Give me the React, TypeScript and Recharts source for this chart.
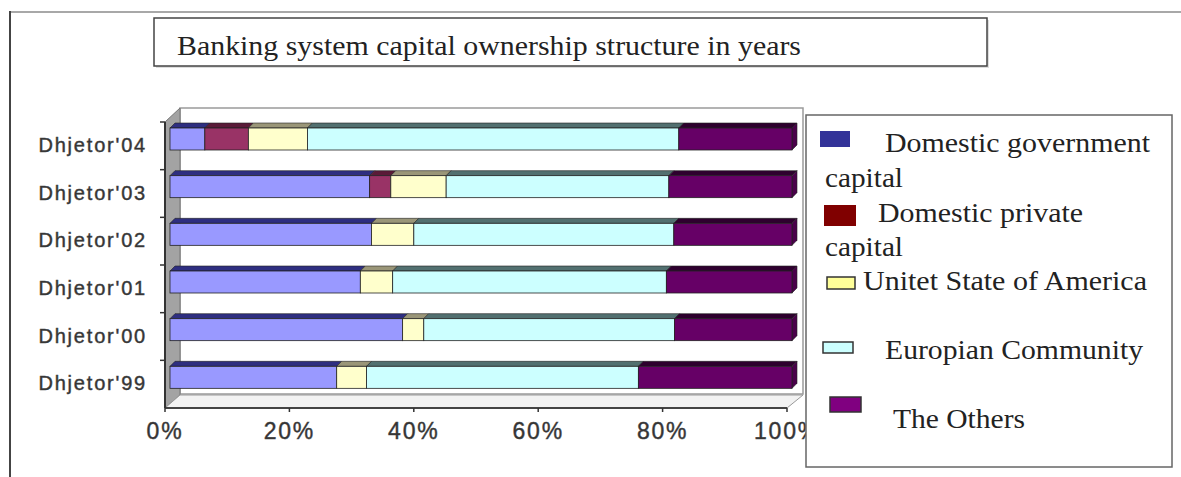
import { BarChart, Bar, XAxis, YAxis } from 'recharts'

// categories, top to bottom as drawn
const years = ["Dhjetor'04", "Dhjetor'03", "Dhjetor'02", "Dhjetor'01", "Dhjetor'00", "Dhjetor'99"]

// shares in %
const govCapital = [5.6, 32.1, 32.4, 30.6, 37.4, 26.8]
const privCapital = [7.0, 3.4, 0, 0, 0, 0]
const usa = [9.5, 8.9, 6.8, 5.2, 3.4, 4.8]
const europe = [59.7, 35.8, 41.8, 44.0, 40.3, 43.7]
const others = [18.2, 19.8, 19.0, 20.2, 18.9, 24.7]

const xTicks = [0, 20, 40, 60, 80, 100]

const W = 1181
const H = 477
const PL = 165, PR = 787, PT = 122, PB = 408
const DX = 15, DY = 13 // depth of the 3D box

const data = years.map((year, i) => ({
  year,
  gov: govCapital[i],
  priv: privCapital[i],
  usa: usa[i],
  eu: europe[i],
  oth: others[i],
}))

const series = [
  { key: 'gov', name: 'Domestic government capital', front: '#9999ff', top: '#2e2e80', side: '#2e2e80', swatch: '#333399' },
  { key: 'priv', name: 'Domestic private capital', front: '#993366', top: '#5a1a38', side: '#5a1a38', swatch: '#800000' },
  { key: 'usa', name: 'Unitet State of America', front: '#ffffcc', top: '#9a9678', side: '#9a9678', swatch: '#ffff99' },
  { key: 'eu', name: 'Europian Community', front: '#ccffff', top: '#527070', side: '#527070', swatch: '#ccffff' },
  { key: 'oth', name: 'The Others', front: '#660066', top: '#2e002e', side: '#4a004a', swatch: '#800080' },
]

function Bar3D(props: any) {
  const { x, y, width, height, front, top, side, last } = props
  if (!width || width <= 0) return null
  const bx = x + 5, by = y - 7, d = 5
  return (
    <g>
      <polygon
        points={`${bx},${by} ${bx + d},${by - d} ${bx + width + d},${by - d} ${bx + width},${by}`}
        fill={top} stroke="#222" strokeWidth={0.6}
      />
      {last && (
        <polygon
          points={`${bx + width},${by} ${bx + width + d},${by - d} ${bx + width + d},${by + height - d} ${bx + width},${by + height}`}
          fill={side} stroke="#222" strokeWidth={0.6}
        />
      )}
      <rect x={bx} y={by} width={width} height={height} fill={front} stroke="#222" strokeWidth={0.8} />
    </g>
  )
}

function YTick(props: any) {
  const { x, y, payload } = props
  return (
    <text x={x} y={y} dy="0.3em" textAnchor="end" fontFamily="'Liberation Sans', Arial, sans-serif"
      fontSize={20} letterSpacing={1.8} fill="#333" stroke="#444" strokeWidth={0.45}>{payload.value}</text>
  )
}

function XTick(props: any) {
  const { x, y, payload } = props
  return (
    <text x={x} y={y} dy="0.72em" textAnchor="middle" fontFamily="'Liberation Sans', Arial, sans-serif"
      fontSize={23} letterSpacing={1.8} fill="#333" stroke="#444" strokeWidth={0.45}>{`${payload.value}%`}</text>
  )
}

const legendRows = [
  { sw: [820, 131, 30, 16], lines: [['Domestic government', 885, 152, 265], ['capital', 825, 187, 78]] },
  { sw: [824, 205, 32, 21], lines: [['Domestic private', 878, 222, 205], ['capital', 825, 256, 78]] },
  { sw: [827, 277, 28, 12], lines: [['Unitet State of America', 863, 290, 284]] },
  { sw: [823, 342, 30, 11], lines: [['Europian Community', 885, 359, 258]] },
  { sw: [830, 397, 31, 15], lines: [['The Others', 893, 428, 132]] },
]

export default function App() {
  const band = (PB - PT) / years.length
  return (
    <div style={{ position: 'absolute', left: 0, top: 0, width: W, height: H, background: '#fff', overflow: 'hidden' }}>
      {/* 3D walls behind the bars */}
      <svg width={W} height={H} style={{ position: 'absolute', left: 0, top: 0 }}>
        <rect x={PL + DX} y={PT - DY - 1} width={PR - PL + 1} height={PB - PT} fill="#fff" stroke="#9a9a9a" strokeWidth={1.5} />
        <polygon points={`${PL},${PT} ${PL + DX},${PT - DY - 1} ${PL + DX},${PB - DY} ${PL},${PB}`} fill="#a3a3a3" stroke="#777" />
        <polygon points={`${PL},${PB} ${PL + DX},${PB - DY} ${PR + DX + 1},${PB - DY} ${PR},${PB}`} fill="#f2f2f2" stroke="#999" />
        {years.map((_, i) => (
          <line key={i} x1={PL - 5} x2={PL} y1={PT + i * band} y2={PT + i * band} stroke="#333" strokeWidth={1.5} />
        ))}
      </svg>

      <div style={{ position: 'absolute', left: 0, top: 0 }}>
        <BarChart width={W} height={H} data={data} layout="vertical" barSize={22}
          margin={{ top: PT, right: W - PR, bottom: H - PB - 40, left: 0 }}>
          <XAxis type="number" domain={[0, 100]} ticks={xTicks} interval={0}
            axisLine={{ stroke: '#444', strokeWidth: 2 }} tickLine={{ stroke: '#333', strokeWidth: 1.5 }}
            tickSize={4} tickMargin={10} height={40} tick={<XTick />} />
          <YAxis type="category" dataKey="year" width={PL}
            axisLine={{ stroke: '#333', strokeWidth: 2 }} tickLine={false} tickMargin={12} tick={<YTick />} />
          {series.map((s, i) => (
            <Bar key={s.key} dataKey={s.key} name={s.name} stackId="a" fill={s.front} isAnimationActive={false}
              shape={(p: any) => <Bar3D {...p} front={s.front} top={s.top} side={s.side} last={i === series.length - 1} />} />
          ))}
        </BarChart>
      </div>

      {/* frame, title and legend */}
      <svg width={W} height={H} style={{ position: 'absolute', left: 0, top: 0, pointerEvents: 'none' }}>
        <line x1={10} x2={W} y1={12} y2={12} stroke="#a8a8a8" strokeWidth={2} />
        <line x1={10} x2={10} y1={11} y2={H} stroke="#444" strokeWidth={2} />
        <rect x={156} y={20} width={833} height={48} fill="#ddd" />
        <rect x={154} y={18} width={833} height={48} fill="#fff" stroke="#444" strokeWidth={1.5} />
        <text x={177} y={55} fontFamily="'Liberation Serif', 'Times New Roman', serif" fontSize={27} fill="#222"
          textLength={624} lengthAdjust="spacingAndGlyphs">Banking system capital ownership structure in years</text>

        <rect x={806} y={115} width={366} height={352} fill="#fff" stroke="#666" strokeWidth={1.5} />
        {legendRows.map((r, i) => (
          <g key={i}>
            <rect x={r.sw[0]} y={r.sw[1]} width={r.sw[2]} height={r.sw[3]} fill={series[i].swatch}
              stroke={i >= 2 ? '#333' : 'none'} strokeWidth={1.5} />
            {r.lines.map((l, j) => (
              <text key={j} x={l[1] as number} y={l[2] as number} fontFamily="'Liberation Serif', 'Times New Roman', serif"
                fontSize={28} fill="#222" textLength={l[3] as number} lengthAdjust="spacingAndGlyphs">{l[0]}</text>
            ))}
          </g>
        ))}
      </svg>
    </div>
  )
}
